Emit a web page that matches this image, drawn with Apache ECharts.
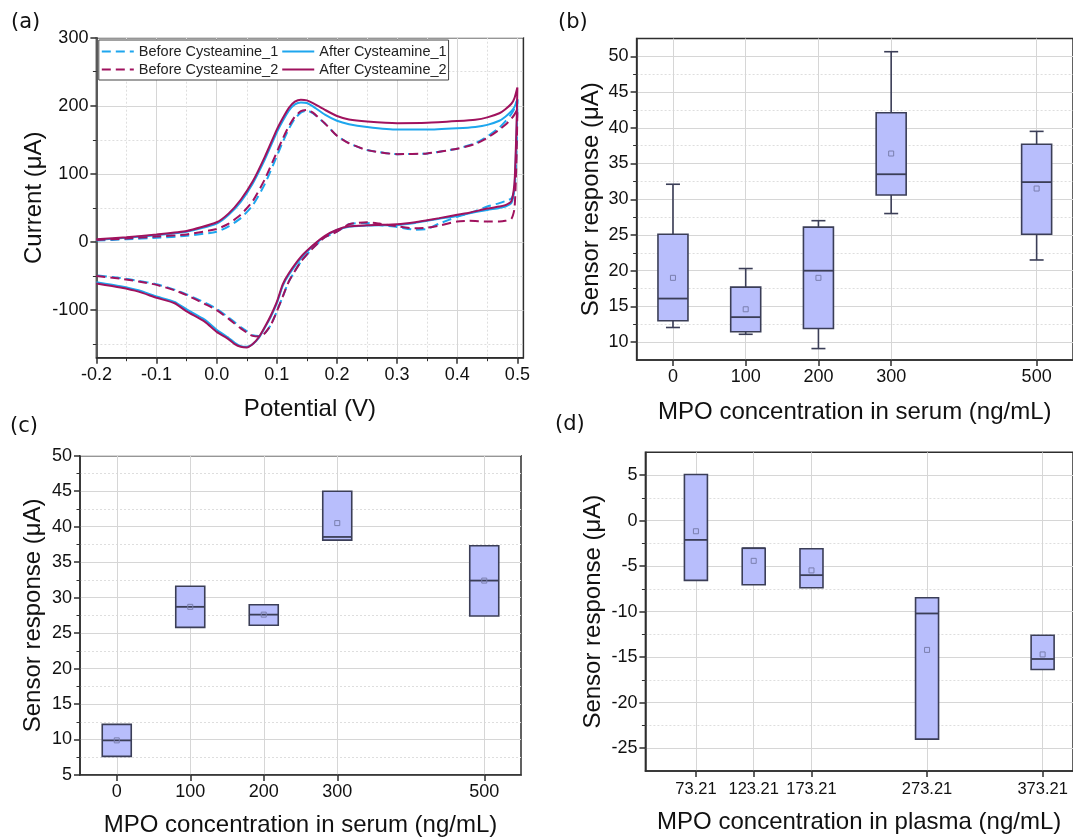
<!DOCTYPE html>
<html>
<head>
<meta charset="utf-8">
<script src="https://cdn.jsdelivr.net/npm/echarts@6/dist/echarts.min.js"></script>
<style>
  html, body { margin: 0; padding: 0; background: #ffffff; }
  #chart { width: 1073px; height: 838px; }
</style>
</head>
<body>
<div id="chart"></div>
<script>
// ---------- (a) cyclic voltammograms: forward scan then reverse scan ----------
const scanPotential = [
  -0.2, -0.15, -0.1, -0.05, 0.0, 0.02, 0.04, 0.06, 0.08, 0.1,
  0.11, 0.12, 0.13, 0.14, 0.15, 0.16, 0.18, 0.2, 0.22, 0.25,
  0.3, 0.35, 0.4, 0.43, 0.45, 0.47, 0.48, 0.49, 0.495, 0.5,
  0.499, 0.497, 0.495, 0.49, 0.48, 0.47, 0.45, 0.42, 0.4, 0.37,
  0.35, 0.33, 0.3, 0.27, 0.25, 0.22, 0.2, 0.18, 0.16, 0.14,
  0.12, 0.11, 0.1, 0.09, 0.08, 0.07, 0.06, 0.05, 0.04, 0.03,
  0.02, 0.0, -0.02, -0.05, -0.07, -0.1, -0.13, -0.16, -0.2
];
const currentBefore1 = [
  2, 4, 6, 9, 15, 23, 35, 54, 85, 126,
  147, 166, 181, 190, 193, 189, 174, 156, 145, 135,
  129, 130, 137, 145, 155, 168, 177, 188, 196, 209,
  150, 100, 75, 64, 60, 57, 52, 42, 37, 27,
  19, 18, 22, 25, 28, 26, 15, 7, -9, -29,
  -58, -80, -102, -122, -134, -138, -137, -131, -125, -118,
  -111, -98, -89, -77, -70, -62, -57, -53, -49
];
const currentAfter1 = [
  3, 6, 10, 15, 27, 40, 59, 86, 121, 161,
  178, 193, 202, 205, 204, 199, 187, 178, 173, 169,
  165, 165, 167, 169, 172, 178, 184, 192, 198, 210,
  170, 115, 78, 57, 52, 50, 47, 42, 38, 34,
  31, 28, 25, 24.5, 24, 22.5, 17.5, 8, -6, -24,
  -48, -64, -90, -110, -126, -141, -150, -154, -153, -148,
  -141, -129, -114, -99, -88, -80, -71, -65, -59
];
const currentBefore2 = [
  3, 5, 8, 11, 19, 27, 40, 60, 92, 132,
  152, 170, 184, 192, 194, 190, 174, 156, 145, 135,
  129, 130, 137, 144, 153, 165, 172, 181, 187, 195,
  140, 80, 48, 34, 31, 30, 30, 31, 30, 24,
  21, 20, 23, 27, 29, 26, 15, 7, -9, -29,
  -58, -80, -102, -122, -134, -139, -138, -133, -127, -120,
  -113, -100, -91, -78, -71, -63, -58, -54, -50
];
const currentAfter2 = [
  4, 7, 11, 16, 29, 42, 62, 89, 125, 165,
  182, 197, 206, 209, 208, 204, 194, 185, 180, 177,
  174.5, 175, 177.5, 179.5, 183, 189, 195, 203, 211, 227,
  185, 125, 85, 60, 54, 52, 49, 43, 40, 35,
  32, 29, 26, 25, 24.5, 23, 18, 9, -5, -22,
  -46, -62, -88, -108, -125, -140, -150, -155, -154, -150,
  -143, -132, -117, -102, -90, -82, -73, -67, -61
];
const cvNames = ['Before Cysteamine_1', 'After Cysteamine_1', 'Before Cysteamine_2', 'After Cysteamine_2'];

// ---------- (b) serum, with whiskers ----------
const serumConc = [0, 100, 200, 300, 500];
const serumMinB = [12.05, 11.1, 9.1, 28.0, 21.5];
const serumQ1B = [13.0, 11.45, 11.9, 30.6, 25.1];
const serumMedianB = [16.1, 13.5, 20.0, 33.5, 32.4];
const serumQ3B = [25.1, 17.7, 26.1, 42.1, 37.7];
const serumMaxB = [32.1, 20.3, 27.0, 50.65, 39.5];
const serumMeanB = [19.0, 14.6, 19.0, 36.4, 31.5];

// ---------- (c) serum, boxes only ----------
const serumQ1C = [7.63, 25.8, 26.1, 38.1, 27.4];
const serumMedianC = [9.88, 28.7, 27.6, 38.55, 32.4];
const serumQ3C = [12.13, 31.6, 29.0, 45.0, 37.3];
const serumMeanC = [9.88, 28.7, 27.6, 40.5, 32.4];

// ---------- (d) plasma, boxes only ----------
const plasmaConc = [73.21, 123.21, 173.21, 273.21, 373.21];
const plasmaQ1 = [-6.57, -7.04, -7.37, -24.0, -16.35];
const plasmaMedian = [-2.12, -3.03, -5.99, -10.2, -15.2];
const plasmaQ3 = [5.07, -3.03, -3.1, -8.47, -12.6];
const plasmaMean = [-1.17, -4.42, -5.47, -14.2, -14.7];

// ---------- tick values ----------
const cvPotentialTicks = [-0.2, -0.1, 0.0, 0.1, 0.2, 0.3, 0.4, 0.5];
const cvPotentialMinor = [-0.15, -0.05, 0.05, 0.15, 0.25, 0.35, 0.45];
const cvCurrentTicks = [-100, 0, 100, 200, 300];
const cvCurrentMinor = [-150, -50, 50, 150, 250];
const responseTicksB = [10, 15, 20, 25, 30, 35, 40, 45, 50];
const responseMinorB = [12.5, 17.5, 22.5, 27.5, 32.5, 37.5, 42.5, 47.5];
const responseTicksC = [5, 10, 15, 20, 25, 30, 35, 40, 45, 50];
const responseMinorC = [7.5, 12.5, 17.5, 22.5, 27.5, 32.5, 37.5, 42.5, 47.5];
const responseTicksD = [-25, -20, -15, -10, -5, 0, 5];
const responseMinorD = [-22.5, -17.5, -12.5, -7.5, -2.5, 2.5];

const FONT = "'Liberation Sans', Arial, sans-serif";
const AXIS_COLOR = '#2e2e2e';
const BOX_EDGE = '#3b3e57';
const BOX_FILL = '#b8befc';
const BLUE = '#1ea6ee';
const PURPLE = '#a0125e';

function zip(xs, ys) { return xs.map((x, i) => [x, ys[i]]); }

function boxItems(xs, lo, q1, med, q3, hi, mean) {
  return xs.map((x, i) => [x, lo[i], q1[i], med[i], q3[i], hi[i], mean[i]]);
}

// main axis: labels, long ticks, solid grid lines
function majorAxis(o) {
  return {
    type: 'value', gridIndex: o.grid, min: o.min, max: o.max, position: o.position,
    name: o.name, nameLocation: 'middle', nameGap: o.nameGap,
    nameTextStyle: { fontFamily: FONT, fontSize: 24, color: '#111' },
    axisLine: { show: true, onZero: false, lineStyle: { color: AXIS_COLOR, width: 1.5 } },
    axisTick: { show: true, inside: false, length: 6, customValues: o.ticks,
      lineStyle: { color: AXIS_COLOR, width: 1.5 } },
    axisLabel: { show: true, customValues: o.ticks, formatter: o.fmt, margin: o.margin || 8,
      fontFamily: FONT, fontSize: o.labelSize || 18, color: '#111' },
    splitLine: { show: true, lineStyle: { color: '#d6d6d6', width: 1 } }
  };
}
// companion axis: short ticks and dotted grid lines halfway between
function minorAxis(o) {
  return {
    type: 'value', gridIndex: o.grid, min: o.min, max: o.max, position: o.position,
    axisLine: { show: false, onZero: false },
    axisTick: { show: true, inside: false, length: 3.5, customValues: o.ticks,
      lineStyle: { color: AXIS_COLOR, width: 1 } },
    axisLabel: { show: false },
    splitLine: { show: true, lineStyle: { color: '#dedede', width: 1, type: [2, 2] } }
  };
}

function renderBox(boxW, capW) {
  return function (params, api) {
    const x = api.value(0);
    const lo = api.value(1), q1 = api.value(2), med = api.value(3), q3 = api.value(4), hi = api.value(5);
    const pLo = api.coord([x, lo]);
    const pQ1 = api.coord([x, q1]);
    const pMed = api.coord([x, med]);
    const pQ3 = api.coord([x, q3]);
    const pHi = api.coord([x, hi]);
    const pMean = api.coord([x, api.value(6)]);
    const cx = pMed[0];
    const hw = boxW / 2, hc = capW / 2;
    const edge = { stroke: BOX_EDGE, lineWidth: 1.6 };
    const kids = [];
    if (hi > q3) {
      kids.push({ type: 'line', shape: { x1: cx, y1: pQ3[1], x2: cx, y2: pHi[1] }, style: edge });
      kids.push({ type: 'line', shape: { x1: cx - hc, y1: pHi[1], x2: cx + hc, y2: pHi[1] }, style: edge });
    }
    if (lo < q1) {
      kids.push({ type: 'line', shape: { x1: cx, y1: pQ1[1], x2: cx, y2: pLo[1] }, style: edge });
      kids.push({ type: 'line', shape: { x1: cx - hc, y1: pLo[1], x2: cx + hc, y2: pLo[1] }, style: edge });
    }
    kids.push({ type: 'rect', shape: { x: cx - hw, y: pQ3[1], width: boxW, height: pQ1[1] - pQ3[1] },
      style: { fill: BOX_FILL, stroke: BOX_EDGE, lineWidth: 1.6 } });
    kids.push({ type: 'line', shape: { x1: cx - hw, y1: pMed[1], x2: cx + hw, y2: pMed[1] },
      style: { stroke: BOX_EDGE, lineWidth: 1.8 } });
    kids.push({ type: 'rect', shape: { x: pMean[0] - 2.5, y: pMean[1] - 2.5, width: 5, height: 5 },
      style: { fill: 'none', stroke: '#7a7fae', lineWidth: 1 } });
    return { type: 'group', children: kids };
  };
}

function cvSeries(name, values, color, dashed) {
  return {
    type: 'line', name: name, xAxisIndex: 0, yAxisIndex: 0,
    data: zip(scanPotential, values), symbol: 'none', smooth: 0.2,
    lineStyle: { color: color, width: 2, type: dashed ? [9, 5] : 'solid' },
    itemStyle: { color: color }
  };
}

function boxSeries(xi, yi, items, boxW, capW) {
  return {
    type: 'custom', xAxisIndex: xi, yAxisIndex: yi, data: items,
    encode: { x: 0, y: [1, 2, 3, 4, 5, 6] },
    renderItem: renderBox(boxW, capW), z: 3
  };
}

const frame = { show: true, borderColor: AXIS_COLOR, borderWidth: 1.5, backgroundColor: '#fff' };

const option = {
  animation: false,
  backgroundColor: '#ffffff',
  grid: [
    Object.assign({ left: 96.4, top: 37.7, width: 427, height: 320 }, frame),
    Object.assign({ left: 636.6, top: 38.5, width: 444, height: 321.5 }, frame),
    Object.assign({ left: 80, top: 455.7, width: 441, height: 319.6 }, frame),
    Object.assign({ left: 645.4, top: 452.3, width: 437.3, height: 318.7 }, frame)
  ],
  xAxis: [
    majorAxis({ grid: 0, min: -0.2, max: 0.51, position: 'bottom', ticks: cvPotentialTicks,
      fmt: v => v.toFixed(1), name: 'Potential (V)', nameGap: 40 }),
    minorAxis({ grid: 0, min: -0.2, max: 0.51, position: 'bottom', ticks: cvPotentialMinor }),
    majorAxis({ grid: 1, min: -50, max: 550, position: 'bottom', ticks: serumConc,
      fmt: v => String(v), name: 'MPO concentration in serum (ng/mL)', nameGap: 40 }),
    majorAxis({ grid: 2, min: -50, max: 550, position: 'bottom', ticks: serumConc,
      fmt: v => String(v), name: 'MPO concentration in serum (ng/mL)', nameGap: 38 }),
    majorAxis({ grid: 3, min: 29.5, max: 399.5, position: 'bottom', ticks: plasmaConc,
      fmt: v => v.toFixed(2), name: 'MPO concentration in plasma (ng/mL)', nameGap: 39,
      labelSize: 16.5, margin: 10 })
  ],
  yAxis: [
    majorAxis({ grid: 0, min: -170, max: 300, position: 'left', ticks: cvCurrentTicks,
      fmt: v => String(v), name: 'Current (\u03bcA)', nameGap: 50 }),
    minorAxis({ grid: 0, min: -170, max: 300, position: 'left', ticks: cvCurrentMinor }),
    majorAxis({ grid: 1, min: 7.5, max: 52.5, position: 'left', ticks: responseTicksB,
      fmt: v => String(v), name: 'Sensor response (\u03bcA)', nameGap: 33 }),
    minorAxis({ grid: 1, min: 7.5, max: 52.5, position: 'left', ticks: responseMinorB }),
    majorAxis({ grid: 2, min: 5, max: 50, position: 'left', ticks: responseTicksC,
      fmt: v => String(v), name: 'Sensor response (\u03bcA)', nameGap: 35 }),
    minorAxis({ grid: 2, min: 5, max: 50, position: 'left', ticks: responseMinorC }),
    majorAxis({ grid: 3, min: -27.5, max: 7.5, position: 'left', ticks: responseTicksD,
      fmt: v => String(v), name: 'Sensor response (\u03bcA)', nameGap: 40 }),
    minorAxis({ grid: 3, min: -27.5, max: 7.5, position: 'left', ticks: responseMinorD })
  ],
  legend: {
    data: cvNames,
    left: 98.8, top: 40, width: 352,
    orient: 'horizontal', itemWidth: 32, itemHeight: 12, itemGap: 3,
    padding: [4, 2, 3, 2],
    borderColor: '#444', borderWidth: 1, backgroundColor: '#ffffff',
    itemStyle: { color: 'rgba(0,0,0,0)', borderWidth: 0, opacity: 0 },
    textStyle: { fontFamily: FONT, fontSize: 14.5, color: '#222', lineHeight: 14 }
  },
  graphic: [
    { type: 'text', left: 11, top: 12, style: { text: '(a)', font: "21px 'DejaVu Sans', sans-serif", fill: '#111' } },
    { type: 'text', left: 558, top: 12, style: { text: '(b)', font: "21px 'DejaVu Sans', sans-serif", fill: '#111' } },
    { type: 'text', left: 10, top: 416, style: { text: '(c)', font: "21px 'DejaVu Sans', sans-serif", fill: '#111' } },
    { type: 'text', left: 555, top: 414, style: { text: '(d)', font: "21px 'DejaVu Sans', sans-serif", fill: '#111' } }
  ],
  series: [
    cvSeries(cvNames[0], currentBefore1, BLUE, true),
    cvSeries(cvNames[1], currentAfter1, BLUE, false),
    cvSeries(cvNames[2], currentBefore2, PURPLE, true),
    cvSeries(cvNames[3], currentAfter2, PURPLE, false),
    boxSeries(2, 2, boxItems(serumConc, serumMinB, serumQ1B, serumMedianB, serumQ3B, serumMaxB, serumMeanB), 30, 14),
    boxSeries(3, 4, boxItems(serumConc, serumQ1C, serumQ1C, serumMedianC, serumQ3C, serumQ3C, serumMeanC), 29, 14),
    boxSeries(4, 6, boxItems(plasmaConc, plasmaQ1, plasmaQ1, plasmaMedian, plasmaQ3, plasmaQ3, plasmaMean), 23, 12)
  ]
};

const chart = echarts.init(document.getElementById('chart'), null, { renderer: 'canvas' });
chart.setOption(option);
</script>
</body>
</html>
